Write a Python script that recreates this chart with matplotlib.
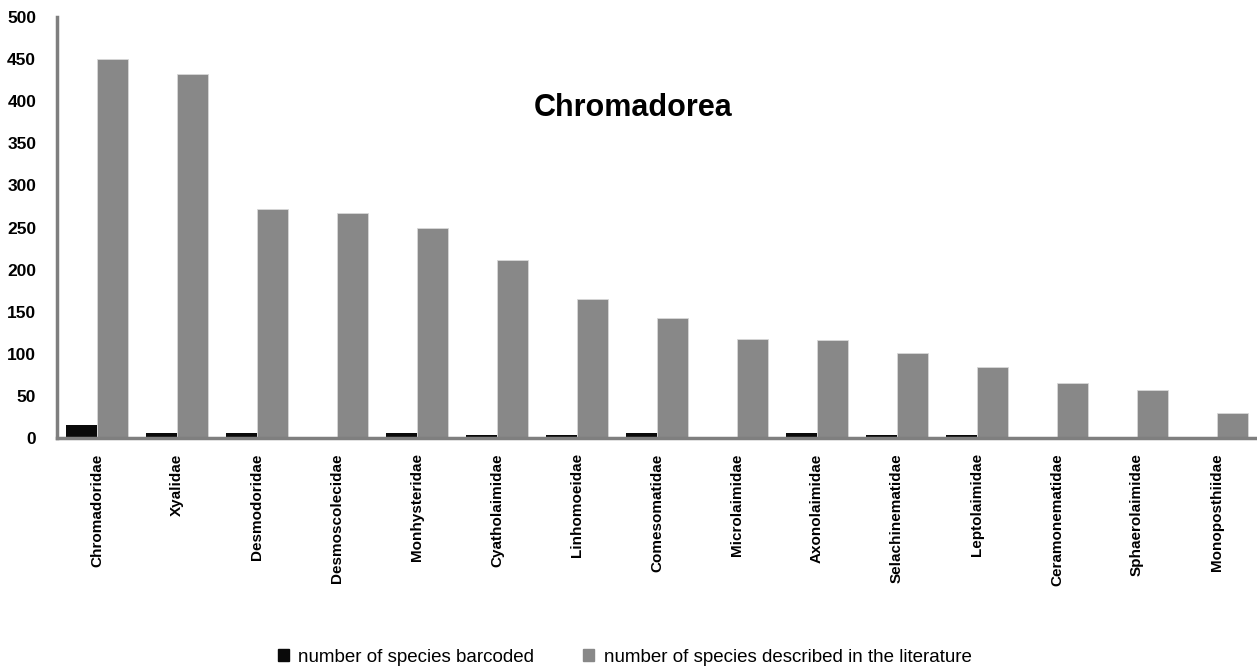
import matplotlib.pyplot as plt
import numpy as np
from matplotlib.patches import Patch

plt.rcParams['font.family'] = ['Liberation Sans', 'DejaVu Sans']

families = ['Chromadoridae', 'Xyalidae', 'Desmodoridae', 'Desmoscolecidae',
            'Monhysteridae', 'Cyatholaimidae', 'Linhomoeidae', 'Comesomatidae',
            'Microlaimidae', 'Axonolaimidae', 'Selachinematidae', 'Leptolaimidae',
            'Ceramonematidae', 'Sphaerolaimidae', 'Monoposthiidae']
barcoded = [16, 6, 6, 0, 6, 4, 4, 6, 0, 6, 4, 3, 0, 1, 1]
described = [450, 432, 272, 267, 249, 211, 165, 142, 118, 116, 101, 84, 65, 57, 30]

BLACK = '#0a0a0a'
GRAY = '#888888'
SPINE = '#7f7f7f'

fig = plt.figure(figsize=(12.57, 6.70), dpi=100)
ax = fig.add_axes([57 / 1257, 1 - 438 / 670, 1 - 57 / 1257, (438 - 17) / 670])

x = np.arange(len(families))
w = 0.39
ax.bar(x - w / 2, barcoded, width=w, color=BLACK, label='number of species barcoded')
ax.bar(x + w / 2, described, width=w, color=GRAY, edgecolor='#d8d8d8', linewidth=0.6,
       label='number of species described in the literature')

ax.set_xlim(-0.5, len(families) - 0.5)
ax.set_ylim(0, 500)
ax.set_yticks(np.arange(0, 501, 50))
ax.set_xticks(x)
ax.set_xticklabels(families, rotation=90, fontsize=11, fontweight='bold')
ax.tick_params(axis='both', length=0)
ax.tick_params(axis='y', labelsize=12.5, pad=15)
ax.tick_params(axis='x', pad=11)
for lab in ax.get_yticklabels():
    lab.set_fontweight('bold')

for side in ['top', 'right']:
    ax.spines[side].set_visible(False)
for side in ['left', 'bottom']:
    ax.spines[side].set_color(SPINE)
    ax.spines[side].set_linewidth(2.5)

ax.text(0.48, 0.784, 'Chromadorea', transform=ax.transAxes, ha='center', va='center',
        fontsize=22, fontweight='bold')

# legend
handles = [Patch(color=BLACK, label='number of species barcoded'),
           Patch(color=GRAY, label='number of species described in the literature')]
fig.legend(handles=handles, loc='center', bbox_to_anchor=(0.497, 13 / 670), ncol=2,
           frameon=False, fontsize=13.5, handlelength=0.6, handleheight=0.6,
           handletextpad=0.5, columnspacing=2.6)

fig.savefig('out.png', dpi=100, facecolor='white')
